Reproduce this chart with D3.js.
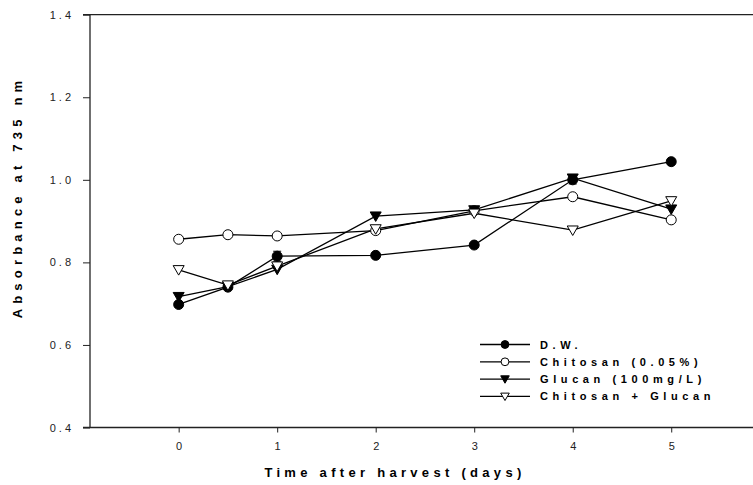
<!DOCTYPE html>
<html>
<head>
<meta charset="utf-8">
<script src="https://cdn.jsdelivr.net/npm/d3@7"></script>
<style>
  html, body { margin: 0; padding: 0; background: #fff; }
  svg { display: block; font-family: Arial, "Liberation Sans", sans-serif; }
</style>
</head>
<body>
<svg id="chart" width="753" height="485"></svg>
<script>
// Sampling times (days after harvest)
const days = [0, 0.5, 1, 2, 3, 4, 5];

// Absorbance at 735 nm per treatment
const dw       = [0.698, 0.740, 0.815, 0.817, 0.842, 1.000, 1.044];
const chitosan = [0.856, 0.867, 0.864, 0.877, 0.925, 0.959, 0.903];
const glucan   = [0.717, 0.741, 0.783, 0.912, 0.927, 1.004, 0.929];
const combo    = [0.782, 0.745, 0.791, 0.881, 0.919, 0.878, 0.949];

// Standard errors (only visible where larger than the marker)
const dwErr    = [0, 0, 0.012, 0, 0, 0.010, 0];

const seriesNames = ["D.W.", "Chitosan (0.05%)", "Glucan (100mg/L)", "Chitosan + Glucan"];
const xTicks = [0, 1, 2, 3, 4, 5];
const yTicks = [0.4, 0.6, 0.8, 1.0, 1.2, 1.4];

const series = [
  { name: seriesNames[0], values: dw,       err: dwErr, shape: "circle",   fill: "#000" },
  { name: seriesNames[1], values: chitosan, err: null,  shape: "circle",   fill: "#fff" },
  { name: seriesNames[2], values: glucan,   err: null,  shape: "triangle", fill: "#000" },
  { name: seriesNames[3], values: combo,    err: null,  shape: "triangle", fill: "#fff" }
];

const svg = d3.select("#chart");
const plotLeft = 90, plotRight = 753, plotTop = 14.7, plotBottom = 427.5;

const x = d3.scaleLinear().domain([-0.9, 5.83]).range([plotLeft, plotRight]);
const y = d3.scaleLinear().domain([0.4, 1.4]).range([plotBottom, plotTop]);

// Frame lines (left, top, bottom)
const frame = svg.append("g").attr("stroke", "#222").attr("stroke-width", 1.3).attr("fill", "none");
frame.append("line").attr("x1", plotLeft).attr("x2", plotLeft).attr("y1", plotTop).attr("y2", plotBottom);
frame.append("line").attr("x1", plotLeft - 7).attr("x2", plotRight).attr("y1", plotTop).attr("y2", plotTop);
frame.append("line").attr("x1", plotLeft - 7).attr("x2", plotRight).attr("y1", plotBottom).attr("y2", plotBottom);

// Y axis
const yAxis = svg.append("g")
  .attr("transform", `translate(${plotLeft},0)`)
  .call(d3.axisLeft(y).tickValues(yTicks).tickFormat(d3.format(".1f")).tickSize(7).tickPadding(9));
yAxis.select(".domain").remove();
yAxis.selectAll("line").attr("stroke", "#222");
yAxis.selectAll("text").attr("font-size", 11).attr("fill", "#222")
  .style("letter-spacing", "3px").attr("font-family", "Arial, 'Liberation Sans', sans-serif");

// X axis
const xAxis = svg.append("g")
  .attr("transform", `translate(0,${plotBottom})`)
  .call(d3.axisBottom(x).tickValues(xTicks).tickFormat(d3.format("d")).tickSize(5).tickPadding(10));
xAxis.select(".domain").remove();
xAxis.selectAll("line").attr("stroke", "#222");
xAxis.selectAll("text").attr("font-size", 11).attr("fill", "#222")
  .attr("font-family", "Arial, 'Liberation Sans', sans-serif");

// Axis titles
svg.append("text")
  .attr("x", 395).attr("y", 477)
  .attr("text-anchor", "middle")
  .attr("font-size", 13).attr("font-weight", "bold")
  .style("letter-spacing", "4.3px")
  .text("Time after harvest (days)");

svg.append("text")
  .attr("transform", "translate(22,197) rotate(-90)")
  .attr("text-anchor", "middle")
  .attr("font-size", 13).attr("font-weight", "bold")
  .style("letter-spacing", "5.2px")
  .text("Absorbance at 735 nm");

// Marker drawing
function marker(sel, shape, fill, k) {
  if (shape === "circle") {
    sel.append("circle").attr("r", 5 * k).attr("fill", fill).attr("stroke", "#000").attr("stroke-width", 1);
  } else {
    sel.append("path")
      .attr("d", `M${-5.5 * k},${-4.2 * k}L${5.5 * k},${-4.2 * k}L0,${5.3 * k}Z`)
      .attr("fill", fill).attr("stroke", "#000").attr("stroke-width", 1);
  }
}

const line = d3.line().x((d, i) => x(days[i])).y(d => y(d));

// Lines first, then error bars and markers
series.forEach(s => {
  svg.append("path").datum(s.values)
    .attr("d", line).attr("fill", "none").attr("stroke", "#000").attr("stroke-width", 1.3);
});

series.forEach(s => {
  if (s.err) {
    s.values.forEach((v, i) => {
      const e = s.err[i];
      if (!e) return;
      const g = svg.append("g").attr("stroke", "#000").attr("stroke-width", 1);
      g.append("line").attr("x1", x(days[i])).attr("x2", x(days[i])).attr("y1", y(v - e)).attr("y2", y(v + e));
      [v - e, v + e].forEach(b => g.append("line")
        .attr("x1", x(days[i]) - 4).attr("x2", x(days[i]) + 4).attr("y1", y(b)).attr("y2", y(b)));
    });
  }
  s.values.forEach((v, i) => {
    const g = svg.append("g").attr("transform", `translate(${x(days[i])},${y(v)})`);
    marker(g, s.shape, s.fill, 1);
  });
});

// Legend
const legend = svg.append("g");
series.forEach((s, i) => {
  const ly = 344.5 + i * 17.3;
  legend.append("line").attr("x1", 480).attr("x2", 530).attr("y1", ly).attr("y2", ly)
    .attr("stroke", "#000").attr("stroke-width", 1.3);
  const g = legend.append("g").attr("transform", `translate(505,${ly})`);
  marker(g, s.shape, s.fill, 0.78);
  legend.append("text").attr("x", 540).attr("y", ly + 4)
    .attr("font-size", 11).attr("font-weight", "bold")
    .style("letter-spacing", "4.6px")
    .text(s.name);
});
</script>
</body>
</html>
